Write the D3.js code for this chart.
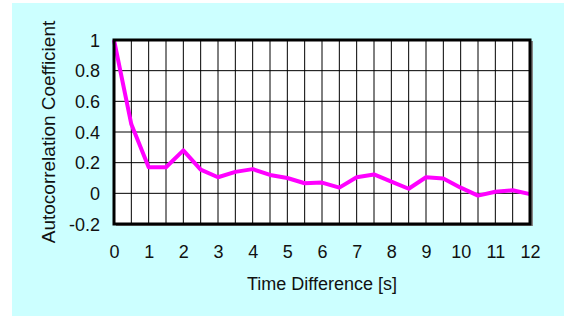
<!DOCTYPE html>
<html>

<head>
    <meta charset="utf-8">
    <style>
        text {
            font-family: "Liberation Sans", Arial, sans-serif;
            font-size: 18px;
            fill: #111;
        }
    </style>
    <script src="https://d3js.org/d3.v7.min.js"></script>
</head>

<body style="margin: 0 !important; padding: 0 !important; background: #fff;">

    <svg width="564" height="318"></svg>
    <script>
        // time lag in seconds and the autocorrelation
        const lags = [0, 0.5, 1, 1.5, 2, 2.5, 3, 3.5, 4, 4.5, 5, 5.5, 6,
            6.5, 7, 7.5, 8, 8.5, 9, 9.5, 10, 10.5, 11, 11.5, 12];
        const coeffs = [1.0, 0.45, 0.17, 0.17, 0.28, 0.155, 0.105, 0.14, 0.158, 0.12, 0.10, 0.066, 0.07,
            0.037, 0.105, 0.123, 0.077, 0.03, 0.105, 0.097, 0.037, -0.015, 0.01, 0.02, -0.005];
        const xTicks = [0, 1, 2, 3, 4, 5, 6, 7, 8, 9, 10, 11, 12];
        const yTicks = [-0.2, 0, 0.2, 0.4, 0.6, 0.8, 1];

        const width = 564;
        const height = 318;
        const svg = d3.select("svg");

        // cyan backdrop
        svg.append('rect')
            .attr('x', 12).attr('y', 3)
            .attr('width', width - 12).attr('height', 313)
            .attr('fill', '#ccffff');

        const plot = { left: 114, right: 530, top: 40, bottom: 224 };

        const x = d3.scaleLinear().domain([0, 12]).range([plot.left, plot.right]);
        const y = d3.scaleLinear().domain([-0.2, 1]).range([plot.bottom, plot.top]);

        // shadow + white plot area
        svg.append('rect')
            .attr('x', plot.left + 2).attr('y', plot.top + 1)
            .attr('width', plot.right - plot.left + 1).attr('height', plot.bottom - plot.top + 1)
            .attr('fill', '#888');
        svg.append('rect')
            .attr('x', plot.left).attr('y', plot.top)
            .attr('width', plot.right - plot.left).attr('height', plot.bottom - plot.top)
            .attr('fill', '#fff');

        // grid: every half second, every 0.2
        const g = svg.append('g');
        g.selectAll('line.vx').data(d3.range(0, 12.01, 0.5))
            .enter().append('line')
            .attr('x1', d => x(d)).attr('x2', d => x(d))
            .attr('y1', plot.top).attr('y2', plot.bottom)
            .attr('stroke', '#000').attr('stroke-width', 1);
        g.selectAll('line.hy').data(yTicks)
            .enter().append('line')
            .attr('x1', plot.left).attr('x2', plot.right)
            .attr('y1', d => y(d)).attr('y2', d => y(d))
            .attr('stroke', '#000').attr('stroke-width', 1);

        // the series
        const line = d3.line()
            .x((d, i) => x(lags[i]))
            .y(d => y(d));
        svg.append('path')
            .datum(coeffs)
            .attr('d', line)
            .attr('fill', 'none')
            .attr('stroke', '#ff00ff')
            .attr('stroke-width', 4)
            .attr('stroke-linejoin', 'round');

        // frame
        svg.append('rect')
            .attr('x', plot.left).attr('y', plot.top)
            .attr('width', plot.right - plot.left).attr('height', plot.bottom - plot.top)
            .attr('fill', 'none')
            .attr('stroke', '#000').attr('stroke-width', 3);

        // axes (labels only), plain hyphen for negatives
        const fmt = d => String(+d.toFixed(1));
        const yaxis = svg.append('g')
            .attr('transform', `translate(${plot.left - 14}, 0)`)
            .call(d3.axisLeft(y).tickValues(yTicks).tickSize(0).tickFormat(fmt));
        const xaxis = svg.append('g')
            .attr('transform', `translate(0, ${plot.bottom + 21})`)
            .call(d3.axisBottom(x).tickValues(xTicks).tickSize(0).tickFormat(fmt));
        svg.selectAll('.domain').remove();
        svg.selectAll('.tick text')
            .attr('font-family', null).attr('font-size', null)
            .style('fill', '#111');
        yaxis.selectAll('.tick text').attr('x', 0).attr('dy', '0.35em');
        xaxis.selectAll('.tick text').attr('y', 0).attr('dy', '0.71em');

        svg.append('text')
            .attr('x', (plot.left + plot.right) / 2)
            .attr('y', 290)
            .attr('text-anchor', 'middle')
            .text('Time Difference [s]');

        svg.append('text')
            .attr('transform', `translate(55, ${(plot.top + plot.bottom) / 2}) rotate(-90)`)
            .attr('text-anchor', 'middle')
            .style('font-size', '19px')
            .text('Autocorrelation Coefficient');
    </script>
</body>

</html>
